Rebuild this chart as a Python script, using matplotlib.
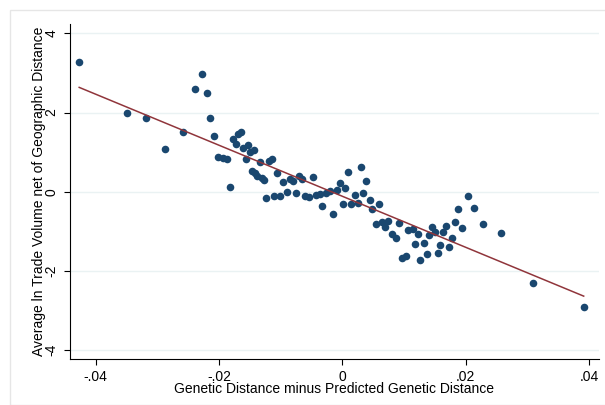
import numpy as np
import matplotlib
matplotlib.use("Agg")
import matplotlib.pyplot as plt
from matplotlib.ticker import FuncFormatter
from matplotlib.patches import Rectangle

# binned scatter: genetic distance residual vs. average ln trade volume residual
gen_dist = [
    -0.04266, -0.03498, -0.03185, -0.02882, -0.02580, -0.02386, -0.02272, -0.02201,
    -0.02143, -0.02078, -0.02013, -0.01937, -0.01877, -0.01823, -0.01775, -0.01731,
    -0.01689, -0.01640, -0.01608, -0.01569, -0.01536, -0.01499, -0.01439, -0.01472,
    -0.01418, -0.01381, -0.01337, -0.01310, -0.01272, -0.01240, -0.01186, -0.01147,
    -0.01110, -0.01057, -0.01013, -0.00959, -0.00904, -0.00851, -0.00797, -0.00754,
    -0.00700, -0.00661, -0.00603, -0.00543, -0.00483, -0.00421, -0.00365, -0.00324,
    -0.00259, -0.00203, -0.00149, -0.00094, -0.00041, 0.00003, 0.00044, 0.00084,
    0.00133, 0.00207, 0.00256, 0.00295, 0.00337, 0.00389, 0.00446, 0.00483,
    0.00538, 0.00592, 0.00645, 0.00689, 0.00742, 0.00797, 0.00862, 0.00916,
    0.00969, 0.01024, 0.01066, 0.01138, 0.01175, 0.01219, 0.01261, 0.01316,
    0.01365, 0.01402, 0.01455, 0.01499, 0.01543, 0.01585, 0.01624, 0.01677,
    0.01726, 0.01775, 0.01818, 0.01867, 0.01945, 0.02029, 0.02131, 0.02280,
    0.02574, 0.03083, 0.03909,
]
trade_vol = [
    3.268, 1.980, 1.861, 1.086, 1.500, 2.601, 2.965, 2.485,
    1.869, 1.407, 0.884, 0.859, 0.838, 0.119, 1.331, 1.197,
    1.457, 1.520, 1.104, 0.826, 1.167, 0.995, 1.045, 0.530,
    0.465, 0.404, 0.742, 0.338, 0.295, -0.152, 0.783, 0.818,
    -0.116, 0.480, -0.101, 0.245, -0.015, 0.313, 0.278, -0.040,
    0.404, 0.321, -0.101, -0.141, 0.379, -0.088, -0.066, -0.369,
    -0.040, 0.018, -0.571, 0.043, 0.212, -0.303, 0.081, 0.510,
    -0.318, -0.091, -0.293, 0.636, -0.040, 0.258, -0.217, -0.444,
    -0.823, -0.318, -0.773, -0.899, -0.732, -1.076, -1.169, -0.798,
    -1.667, -1.624, -0.967, -0.942, -1.328, -1.076, -1.725, -1.288,
    -1.581, -1.093, -0.884, -1.025, -1.548, -1.346, -1.018, -0.859,
    -1.404, -1.177, -0.758, -0.429, -0.909, -0.109, -0.424, -0.811,
    -1.035, -2.306, -2.912,
]

xticks = [-0.04, -0.02, 0, 0.02, 0.04]
yticks = [-4, -2, 0, 2, 4]

x = np.array(gen_dist)
y = np.array(trade_vol)
slope, intercept = np.polyfit(x, y, 1)
xf = np.array([x.min(), x.max()])

plt.rcParams['font.family'] = ['Liberation Sans', 'DejaVu Sans']

fig = plt.figure(figsize=(6.05, 4.05), dpi=100)
fig.patches.append(Rectangle((10 / 605, 0), 1, 1 - 10 / 405, transform=fig.transFigure,
                             fill=False, edgecolor='#e6e6e6', linewidth=1))
ax = fig.add_axes([69.7 / 605, 1 - 358.7 / 405, (599 - 69.7) / 605, (358.7 - 24) / 405])

for yt in yticks:
    ax.axhline(yt, color='#eaf2f3', linewidth=1, zorder=0)

ax.scatter(x, y, s=30, color='#1a476f', linewidths=0, zorder=3)
ax.plot(xf, intercept + slope * xf, color='#90353b', linewidth=1.1, zorder=4)

ax.set_xlim(-0.0442, 0.04157)
ax.set_ylim(-4.217, 4.235)
ax.set_xticks(xticks)
ax.set_yticks(yticks)


def stata_fmt(v, pos):
    if abs(v) < 1e-12:
        return '0'
    s = ('%g' % v)
    return s.replace('0.', '.')


ax.xaxis.set_major_formatter(FuncFormatter(stata_fmt))
ax.yaxis.set_major_formatter(FuncFormatter(lambda v, p: '%d' % v))

for s in ['top', 'right']:
    ax.spines[s].set_visible(False)
for s in ['left', 'bottom']:
    ax.spines[s].set_color('#000000')
    ax.spines[s].set_linewidth(0.8)

ax.tick_params(axis='both', direction='out', length=4, width=0.8, labelsize=10, pad=4)
for lab in ax.get_yticklabels():
    lab.set_rotation(90)
    lab.set_va('center')

ax.set_xlabel('Genetic Distance minus Predicted Genetic Distance', fontsize=10, labelpad=-1)
ax.set_ylabel('Average ln Trade Volume net of Geographic Distance', fontsize=10, labelpad=-1)

fig.savefig('out.png', dpi=100)
